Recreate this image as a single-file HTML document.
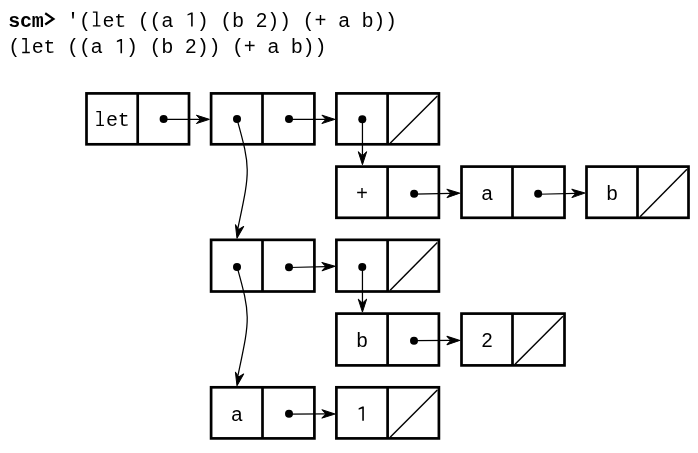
<!DOCTYPE html>
<html><head><meta charset="utf-8"><style>
html,body{margin:0;padding:0;background:#fff;}
body{width:698px;height:453px;overflow:hidden;}
svg{display:block;}
#w{will-change:transform;width:698px;height:453px;}
.b{fill:none;stroke:#000;stroke-width:2.7;}
.s{stroke:#000;stroke-width:1.45;}
.l{fill:none;stroke:#000;stroke-width:1.25;}
.h{fill:#000;stroke:#000;stroke-width:1;stroke-linejoin:round;}
.tc{font-family:"Liberation Mono",monospace;font-size:20px;text-anchor:middle;fill:#000;}
.ts{font-family:"Liberation Sans",sans-serif;}
</style></head><body>
<div id="w"><svg width="698" height="453" viewBox="0 0 698 453">
<text x="14.24" y="26.6" class="tc" font-weight="bold">s</text>
<text x="26.01" y="26.6" class="tc" font-weight="bold">c</text>
<text x="37.79" y="26.6" class="tc" font-weight="bold">m</text>
<path d="M45.21,13.3 L53.41,18.9 L45.21,24.5" fill="none" stroke="#000" stroke-width="2.25"/>
<text x="73.11" y="26.6" class="tc">'</text>
<text x="84.89" y="26.6" class="tc">(</text>
<path d="M92.86,11.5 H97.51 V25.15 H100.46 V26.6 H92.86 V25.15 H96.01 V12.85 H92.86 Z"/>
<text x="108.44" y="26.6" class="tc">e</text>
<text x="120.21" y="26.6" class="tc">t</text>
<text x="143.76" y="26.6" class="tc">(</text>
<text x="155.54" y="26.6" class="tc">(</text>
<text x="167.31" y="26.6" class="tc ts">a</text>
<path d="M191.11,26.6 V14.3 L187.51,15.6 V14.15 L191.21,12.4 H192.71 V26.6 Z"/>
<text x="202.64" y="26.6" class="tc">)</text>
<text x="226.19" y="26.6" class="tc">(</text>
<text x="237.96" y="26.6" class="tc ts">b</text>
<text x="261.51" y="26.6" class="tc ts">2</text>
<text x="273.29" y="26.6" class="tc">)</text>
<text x="285.06" y="26.6" class="tc">)</text>
<text x="308.61" y="26.6" class="tc">(</text>
<text x="320.39" y="26.6" class="tc">+</text>
<text x="343.94" y="26.6" class="tc ts">a</text>
<text x="367.49" y="26.6" class="tc ts">b</text>
<text x="379.26" y="26.6" class="tc">)</text>
<text x="391.04" y="26.6" class="tc">)</text>
<text x="14.24" y="53.2" class="tc">(</text>
<path d="M22.21,38.1 H26.86 V51.75 H29.81 V53.2 H22.21 V51.75 H25.36 V39.45 H22.21 Z"/>
<text x="37.79" y="53.2" class="tc">e</text>
<text x="49.56" y="53.2" class="tc">t</text>
<text x="73.11" y="53.2" class="tc">(</text>
<text x="84.89" y="53.2" class="tc">(</text>
<text x="96.66" y="53.2" class="tc ts">a</text>
<path d="M120.46,53.2 V40.9 L116.86,42.2 V40.75 L120.56,39 H122.06 V53.2 Z"/>
<text x="131.99" y="53.2" class="tc">)</text>
<text x="155.54" y="53.2" class="tc">(</text>
<text x="167.31" y="53.2" class="tc ts">b</text>
<text x="190.86" y="53.2" class="tc ts">2</text>
<text x="202.64" y="53.2" class="tc">)</text>
<text x="214.41" y="53.2" class="tc">)</text>
<text x="237.96" y="53.2" class="tc">(</text>
<text x="249.74" y="53.2" class="tc">+</text>
<text x="273.29" y="53.2" class="tc ts">a</text>
<text x="296.84" y="53.2" class="tc ts">b</text>
<text x="308.61" y="53.2" class="tc">)</text>
<text x="320.39" y="53.2" class="tc">)</text>
<rect x="86.5" y="93.4" width="102.5" height="50.9" class="b"/>
<line x1="137.7" y1="93.4" x2="137.7" y2="144.3" class="b"/>
<path d="M96.35,111 H101 V124.65 H103.95 V126.1 H96.35 V124.65 H99.5 V112.35 H96.35 Z"/>
<text x="111.93" y="126.1" class="tc">e</text>
<text x="123.70" y="126.1" class="tc">t</text>
<rect x="211.1" y="93.4" width="103.3" height="50.9" class="b"/>
<line x1="262.5" y1="93.4" x2="262.5" y2="144.3" class="b"/>
<rect x="336.4" y="93.4" width="102.5" height="50.9" class="b"/>
<line x1="387.6" y1="93.4" x2="387.6" y2="144.3" class="b"/>
<line x1="390.15" y1="143.15" x2="437.35" y2="96.05" class="s"/>
<rect x="336.4" y="166.6" width="102.5" height="51.2" class="b"/>
<line x1="387.6" y1="166.6" x2="387.6" y2="217.8" class="b"/>
<text x="362.00" y="200.1" class="tc">+</text>
<rect x="461.5" y="166.6" width="103" height="51.2" class="b"/>
<line x1="512.5" y1="166.6" x2="512.5" y2="217.8" class="b"/>
<text x="487.00" y="200.1" class="tc ts">a</text>
<rect x="586.5" y="166.6" width="102" height="51.2" class="b"/>
<line x1="637.5" y1="166.6" x2="637.5" y2="217.8" class="b"/>
<line x1="640.05" y1="216.65" x2="686.95" y2="169.25" class="s"/>
<text x="612.00" y="200.1" class="tc ts">b</text>
<rect x="211.1" y="239.85" width="103.3" height="51.65" class="b"/>
<line x1="262.5" y1="239.85" x2="262.5" y2="291.5" class="b"/>
<rect x="336.4" y="239.85" width="102.5" height="51.65" class="b"/>
<line x1="387.6" y1="239.85" x2="387.6" y2="291.5" class="b"/>
<line x1="390.15" y1="290.35" x2="437.35" y2="242.5" class="s"/>
<rect x="336.4" y="313.6" width="102.5" height="51.8" class="b"/>
<line x1="387.6" y1="313.6" x2="387.6" y2="365.4" class="b"/>
<text x="362.00" y="347.1" class="tc ts">b</text>
<rect x="461.5" y="313.6" width="103" height="51.8" class="b"/>
<line x1="512.5" y1="313.6" x2="512.5" y2="365.4" class="b"/>
<line x1="515.05" y1="364.25" x2="562.95" y2="316.25" class="s"/>
<text x="487.00" y="347.1" class="tc ts">2</text>
<rect x="211.1" y="387.3" width="103.3" height="51.1" class="b"/>
<line x1="262.5" y1="387.3" x2="262.5" y2="438.4" class="b"/>
<text x="236.80" y="420.8" class="tc ts">a</text>
<rect x="336.4" y="387.3" width="102.5" height="51.1" class="b"/>
<line x1="387.6" y1="387.3" x2="387.6" y2="438.4" class="b"/>
<line x1="390.15" y1="437.25" x2="437.35" y2="389.95" class="s"/>
<path d="M362.25,420.8 V408.5 L358.65,409.8 V408.35 L362.35,406.6 H363.85 V420.8 Z"/>
<circle cx="163.6" cy="118.95" r="4"/>
<circle cx="237" cy="119.05" r="4"/>
<circle cx="289" cy="118.95" r="4"/>
<circle cx="362.3" cy="119.2" r="4"/>
<circle cx="414.15" cy="193.8" r="4"/>
<circle cx="538.15" cy="193.8" r="4"/>
<circle cx="237" cy="266.95" r="4"/>
<circle cx="289" cy="267.25" r="4"/>
<circle cx="362.25" cy="266.95" r="4"/>
<circle cx="414" cy="340.75" r="4"/>
<circle cx="289" cy="413.85" r="4"/>
<path d="M163.6,119.35 L200.4,119.35" class="l"/>
<path d="M0,0 L-13,-4.2 L-9,0 L-13,4.2 Z" class="h" transform="translate(209.4,119.35) rotate(0.00)"/>
<path d="M289,119.35 L325.9,119.35" class="l"/>
<path d="M0,0 L-13,-4.2 L-9,0 L-13,4.2 Z" class="h" transform="translate(334.9,119.35) rotate(0.00)"/>
<path d="M414.15,194.2 L451,193.36" class="l"/>
<path d="M0,0 L-13,-4.2 L-9,0 L-13,4.2 Z" class="h" transform="translate(460,193.15) rotate(-1.31)"/>
<path d="M538.15,194.25 L575.9,193.32" class="l"/>
<path d="M0,0 L-13,-4.2 L-9,0 L-13,4.2 Z" class="h" transform="translate(584.9,193.1) rotate(-1.41)"/>
<path d="M289,267.5 L326,266.53" class="l"/>
<path d="M0,0 L-13,-4.2 L-9,0 L-13,4.2 Z" class="h" transform="translate(335,266.3) rotate(-1.49)"/>
<path d="M414,340.7 L451,340.46" class="l"/>
<path d="M0,0 L-13,-4.2 L-9,0 L-13,4.2 Z" class="h" transform="translate(460,340.4) rotate(-0.37)"/>
<path d="M289,414 L326,413.92" class="l"/>
<path d="M0,0 L-13,-4.2 L-9,0 L-13,4.2 Z" class="h" transform="translate(335,413.9) rotate(-0.12)"/>
<path d="M362.45,119.2 L362.45,155.7" class="l"/>
<path d="M0,0 L-13,-4.2 L-9,0 L-13,4.2 Z" class="h" transform="translate(362.45,164.7) rotate(90.00)"/>
<path d="M362.45,266.95 L362.45,303.1" class="l"/>
<path d="M0,0 L-13,-4.2 L-9,0 L-13,4.2 Z" class="h" transform="translate(362.45,312.1) rotate(90.00)"/>
<path d="M237,119.05 C251.21,169.52 249.75,171.71 237.97,228" class="l"/>
<path d="M0,0 L-13,-4.2 L-9,0 L-13,4.2 Z" class="h" transform="translate(236.97,238.3) rotate(101.42)"/>
<path d="M237,266.55 C251.21,317.02 249.75,319.21 237.97,375.5" class="l"/>
<path d="M0,0 L-13,-4.2 L-9,0 L-13,4.2 Z" class="h" transform="translate(236.97,385.8) rotate(101.42)"/>
</svg></div>
</body></html>
